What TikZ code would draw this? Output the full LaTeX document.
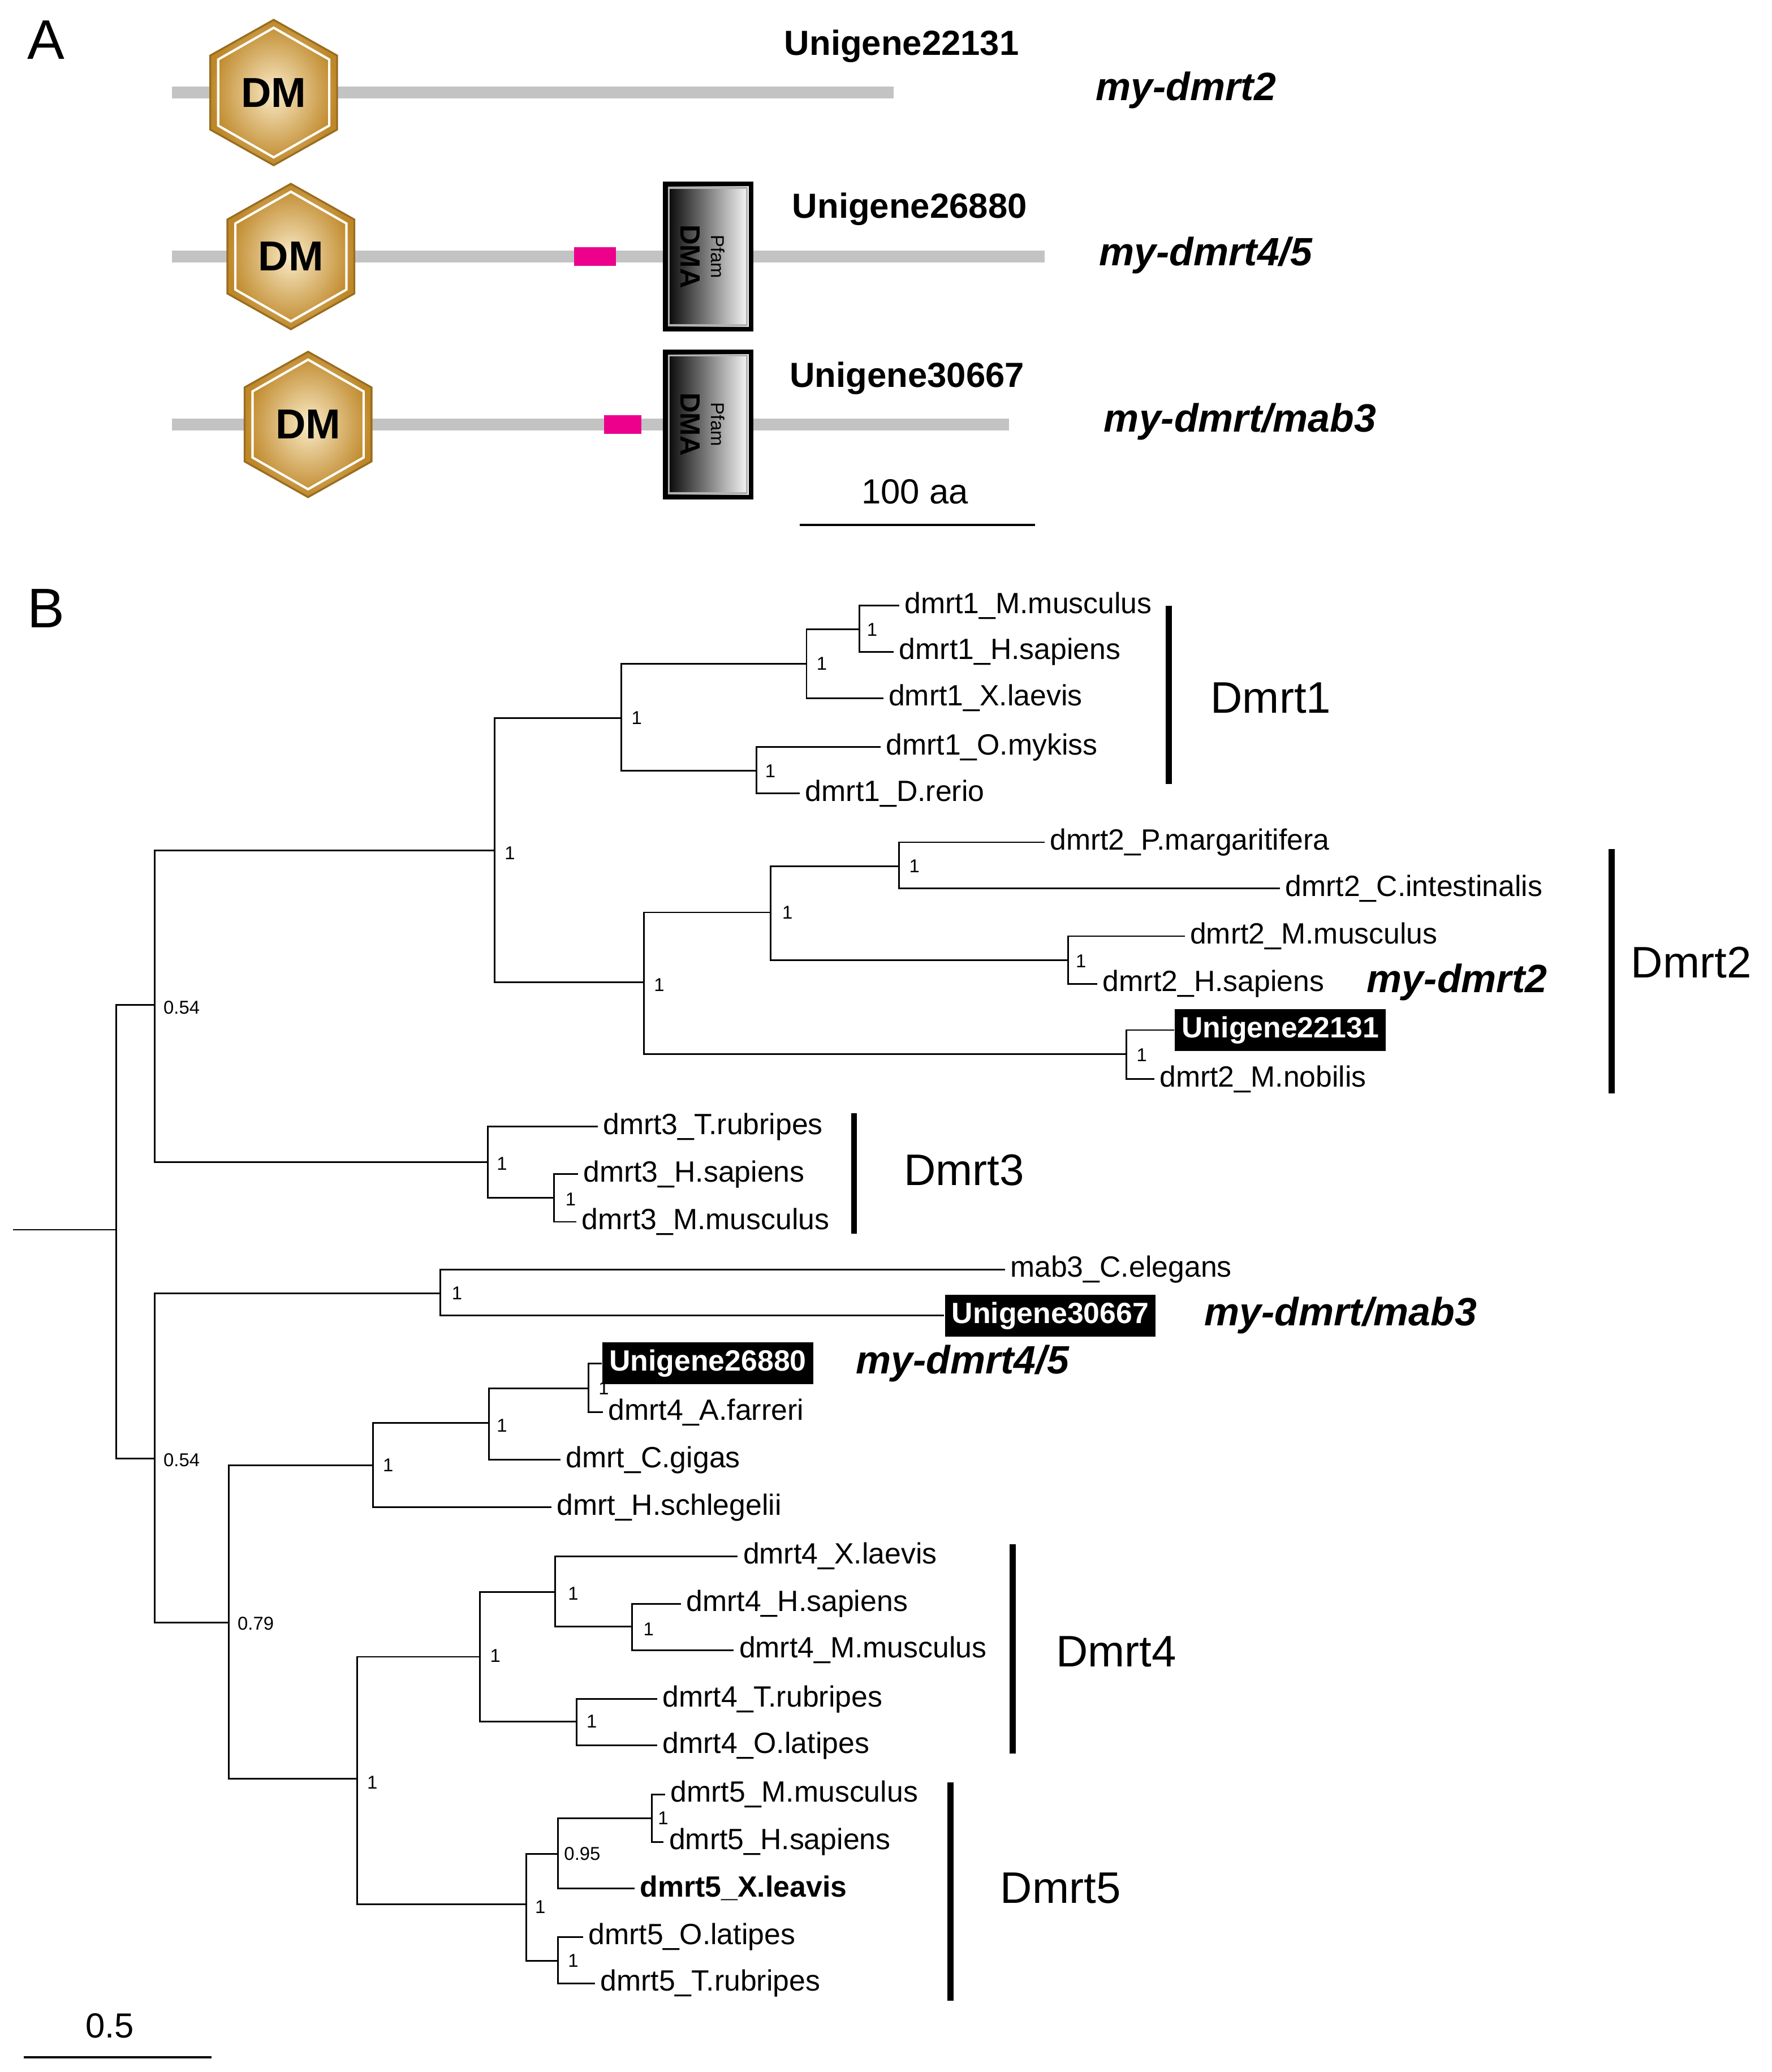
\documentclass[tikz,border=0pt]{standalone}
\usepackage{fontspec}
\setmainfont{Liberation Sans}
\usetikzlibrary{calc}
\definecolor{gold}{RGB}{190,135,40}
\definecolor{goldlt}{RGB}{250,235,200}
\definecolor{prot}{RGB}{195,195,195}
\tikzset{
  leaf/.style={anchor=west,inner sep=1pt,font=\fontsize{6.3}{7}\selectfont},
  ugene/.style={anchor=west,inner sep=1.5pt,fill=black,text=white,font=\bfseries\fontsize{6.3}{7}\selectfont},
  supp/.style={anchor=west,inner sep=0pt,font=\fontsize{4}{5}\selectfont},
  clade/.style={anchor=west,inner sep=0pt,font=\fontsize{9.5}{11}\selectfont},
  myname/.style={anchor=center,inner sep=0pt,font=\bfseries\itshape\fontsize{8.5}{10}\selectfont},
  bar/.style={line width=1.3pt},
  branch/.style={line width=0.35pt}
}
% one DM hexagon centred at (#1,#2)
\newcommand{\dmhex}[2]{
  \shade[inner color=goldlt,outer color=gold,draw=gold!80!black,line width=0.4pt]
    (#1,#2-55) -- (#1+48,#2-28) -- (#1+48,#2+28) -- (#1,#2+55) -- (#1-48,#2+28) -- (#1-48,#2-28) -- cycle;
  \draw[white,line width=0.5pt] (#1,#2-49) -- (#1+42,#2-25) -- (#1+42,#2+25) -- (#1,#2+49) -- (#1-42,#2+25) -- (#1-42,#2-25) -- cycle;
  \node[font=\bfseries\fontsize{9}{10}\selectfont] at (#1,#2) {DM};
}
% one Pfam DMA box, top edge at y=#1
\newcommand{\dmabox}[1]{
  \shade[left color=black,right color=white,draw=black,line width=1pt] (503,#1) rectangle (568,#1+110);
  \draw[gray!60,line width=0.4pt] (506,#1+3) rectangle (565,#1+107);
  \node[rotate=-90,font=\bfseries\fontsize{6}{7}\selectfont] at (522,#1+55) {DMA};
  \node[rotate=-90,font=\fontsize{4}{5}\selectfont] at (543,#1+55) {Pfam};
}
\begin{document}
\begin{tikzpicture}[x=0.01cm,y=-0.01cm]
  \useasboundingbox (0,0) rectangle (1340,1567);

  % ---- panel A ----
  \node[font=\fontsize{12}{14}\selectfont] (lA) at (35,30) {A};
  \draw[prot,line width=2.6pt] (130,70) -- (676,70);
  \draw[prot,line width=2.6pt] (130,194) -- (790,194);
  \draw[prot,line width=2.6pt] (130,321) -- (763,321);
  \dmhex{207}{70}
  \dmhex{220}{194}
  \dmhex{233}{321}
  \fill[magenta] (434,187) rectangle (466,201);
  \fill[magenta] (457,314) rectangle (485,328);
  \dmabox{139}
  \dmabox{266}
  \node[font=\bfseries\fontsize{7.5}{9}\selectfont] (u1) at (682,35) {Unigene22131};
  \node[font=\bfseries\fontsize{7.5}{9}\selectfont] (u2) at (688,158) {Unigene26880};
  \node[font=\bfseries\fontsize{7.5}{9}\selectfont] (u3) at (686,286) {Unigene30667};
  \node[myname] (m1) at (897,68) {my-dmrt2};
  \node[myname] (m2) at (912,193) {my-dmrt4/5};
  \node[myname] (m3) at (938,319) {my-dmrt/mab3};
  \node[font=\fontsize{7.5}{9}\selectfont] (sA) at (692,372) {100 aa};
  \draw[line width=0.6pt] (605,397) -- (783,397);

  % ---- panel B ----
  \node[font=\fontsize{12}{14}\selectfont] (lB) at (35,460) {B};
  \begin{scope}[branch]
  % internal nodes
  \coordinate (root) at (10,930);
  \coordinate (r) at (88,930);
  \coordinate (up) at (117,760);
  \coordinate (d12) at (374,643);
  \coordinate (d1) at (470,543);
  \coordinate (d1a) at (610,502);
  \coordinate (d1b) at (650,476);
  \coordinate (d1c) at (572,583);
  \coordinate (d2) at (487,743);
  \coordinate (d2a) at (583,690);
  \coordinate (d2b) at (680,655);
  \coordinate (d2c) at (808,726);
  \coordinate (d2d) at (852,797);
  \coordinate (d3) at (369,879);
  \coordinate (d3a) at (419,906);
  \coordinate (lo) at (117,1103);
  \coordinate (mab) at (333,978);
  \coordinate (d45) at (173,1227);
  \coordinate (inv) at (282,1108);
  \coordinate (inva) at (370,1076);
  \coordinate (invb) at (445,1050);
  \coordinate (v45) at (270,1345);
  \coordinate (d4) at (363,1253);
  \coordinate (d4a) at (420,1204);
  \coordinate (d4b) at (478,1230);
  \coordinate (d4c) at (436,1302);
  \coordinate (d5) at (398,1440);
  \coordinate (d5a) at (422,1402);
  \coordinate (d5b) at (493,1375);
  \coordinate (d5c) at (422,1483);

  % leaves
  \node[leaf] (a1) at (680,458) {dmrt1\_M.musculus};
  \node[leaf] (a2) at (676,493) {dmrt1\_H.sapiens};
  \node[leaf] (a3) at (668,528) {dmrt1\_X.laevis};
  \node[leaf] (a4) at (666,565) {dmrt1\_O.mykiss};
  \node[leaf] (a5) at (605,600) {dmrt1\_D.rerio};
  \node[leaf] (b1) at (790,637) {dmrt2\_P.margaritifera};
  \node[leaf] (b2) at (968,672) {dmrt2\_C.intestinalis};
  \node[leaf] (b3) at (896,708) {dmrt2\_M.musculus};
  \node[leaf] (b4) at (830,744) {dmrt2\_H.sapiens};
  \node[ugene] (b5) at (888,779) {Unigene22131};
  \node[leaf] (b6) at (873,816) {dmrt2\_M.nobilis};
  \node[leaf] (c1) at (452,852) {dmrt3\_T.rubripes};
  \node[leaf] (c2) at (437,888) {dmrt3\_H.sapiens};
  \node[leaf] (c3) at (436,924) {dmrt3\_M.musculus};
  \node[leaf] (e1) at (760,960) {mab3\_C.elegans};
  \node[ugene] (e2) at (714,995) {Unigene30667};
  \node[ugene] (f1) at (455,1031) {Unigene26880};
  \node[leaf] (f2) at (456,1068) {dmrt4\_A.farreri};
  \node[leaf] (f3) at (424,1104) {dmrt\_C.gigas};
  \node[leaf] (f4) at (417,1140) {dmrt\_H.schlegelii};
  \node[leaf] (g1) at (558,1177) {dmrt4\_X.laevis};
  \node[leaf] (g2) at (515,1213) {dmrt4\_H.sapiens};
  \node[leaf] (g3) at (555,1248) {dmrt4\_M.musculus};
  \node[leaf] (g4) at (497,1285) {dmrt4\_T.rubripes};
  \node[leaf] (g5) at (497,1320) {dmrt4\_O.latipes};
  \node[leaf] (h1) at (503,1357) {dmrt5\_M.musculus};
  \node[leaf] (h2) at (502,1393) {dmrt5\_H.sapiens};
  \node[leaf,font=\bfseries\fontsize{6.3}{7}\selectfont] (h3) at (480,1428) {dmrt5\_X.leavis};
  \node[leaf] (h4) at (441,1465) {dmrt5\_O.latipes};
  \node[leaf] (h5) at (450,1500) {dmrt5\_T.rubripes};

  % branches
  \draw (root) -- (r);
  \draw (r) |- (up);  \draw (r) |- (lo);
  \draw (up) |- (d12); \draw (up) |- (d3);
  \draw (d12) |- (d1); \draw (d12) |- (d2);
  \draw (d1) |- (d1a); \draw (d1) |- (d1c);
  \draw (d1a) |- (d1b); \draw (d1a) |- (a3.west);
  \draw (d1b) |- (a1.west); \draw (d1b) |- (a2.west);
  \draw (d1c) |- (a4.west); \draw (d1c) |- (a5.west);
  \draw (d2) |- (d2a); \draw (d2) |- (d2d);
  \draw (d2a) |- (d2b); \draw (d2a) |- (d2c);
  \draw (d2b) |- (b1.west); \draw (d2b) |- (b2.west);
  \draw (d2c) |- (b3.west); \draw (d2c) |- (b4.west);
  \draw (d2d) |- (b5.west); \draw (d2d) |- (b6.west);
  \draw (d3) |- (c1.west); \draw (d3) |- (d3a);
  \draw (d3a) |- (c2.west); \draw (d3a) |- (c3.west);
  \draw (lo) |- (mab); \draw (lo) |- (d45);
  \draw (mab) |- (e1.west); \draw (mab) |- (e2.west);
  \draw (d45) |- (inv); \draw (d45) |- (v45);
  \draw (inv) |- (inva); \draw (inv) |- (f4.west);
  \draw (inva) |- (invb); \draw (inva) |- (f3.west);
  \draw (invb) |- (f1.west); \draw (invb) |- (f2.west);
  \draw (v45) |- (d4); \draw (v45) |- (d5);
  \draw (d4) |- (d4a); \draw (d4) |- (d4c);
  \draw (d4a) |- (g1.west); \draw (d4a) |- (d4b);
  \draw (d4b) |- (g2.west); \draw (d4b) |- (g3.west);
  \draw (d4c) |- (g4.west); \draw (d4c) |- (g5.west);
  \draw (d5) |- (d5a); \draw (d5) |- (d5c);
  \draw (d5a) |- (d5b); \draw (d5a) |- (h3.west);
  \draw (d5b) |- (h1.west); \draw (d5b) |- (h2.west);
  \draw (d5c) |- (h4.west); \draw (d5c) |- (h5.west);
  \end{scope}

  % support values
  \node[supp] at (123,762) {0.54};
  \node[supp] at (381,645) {1};
  \node[supp] at (477,543) {1};
  \node[supp] at (617,502) {1};
  \node[supp] at (655,476) {1};
  \node[supp] at (578,583) {1};
  \node[supp] at (494,745) {1};
  \node[supp] at (591,690) {1};
  \node[supp] at (687,655) {1};
  \node[supp] at (813,727) {1};
  \node[supp] at (859,798) {1};
  \node[supp] at (375,880) {1};
  \node[supp] at (427,907) {1};
  \node[supp] at (123,1104) {0.54};
  \node[supp] at (341,978) {1};
  \node[supp] at (179,1228) {0.79};
  \node[supp] at (289,1108) {1};
  \node[supp] at (375,1078) {1};
  \node[supp] at (452,1050) {1};
  \node[supp] at (277,1348) {1};
  \node[supp] at (370,1252) {1};
  \node[supp] at (429,1205) {1};
  \node[supp] at (486,1232) {1};
  \node[supp] at (443,1302) {1};
  \node[supp] at (404,1442) {1};
  \node[supp] at (426,1402) {0.95};
  \node[supp] at (497,1375) {1};
  \node[supp] at (429,1483) {1};

  % clade bars
  \draw[bar] (884,458) -- (884,593);
  \node[clade] (k1) at (915,528) {Dmrt1};
  \draw[bar] (1219,642) -- (1219,827);
  \node[clade] (k2) at (1233,728) {Dmrt2};
  \draw[bar] (646,842) -- (646,933);
  \node[clade] (k3) at (683,885) {Dmrt3};
  \draw[bar] (766,1168) -- (766,1326);
  \node[clade] (k4) at (798,1249) {Dmrt4};
  \draw[bar] (719,1348) -- (719,1513);
  \node[clade] (k5) at (756,1428) {Dmrt5};

  % names
  \node[myname] (n1) at (1102,743) {my-dmrt2};
  \node[myname] (n2) at (1014,995) {my-dmrt/mab3};
  \node[myname] (n3) at (728,1031) {my-dmrt4/5};

  % scale
  \node[font=\fontsize{7.5}{9}\selectfont] (sB) at (83,1532) {0.5};
  \draw[line width=0.5pt] (18,1556) -- (160,1556);
\end{tikzpicture}
\end{document}
